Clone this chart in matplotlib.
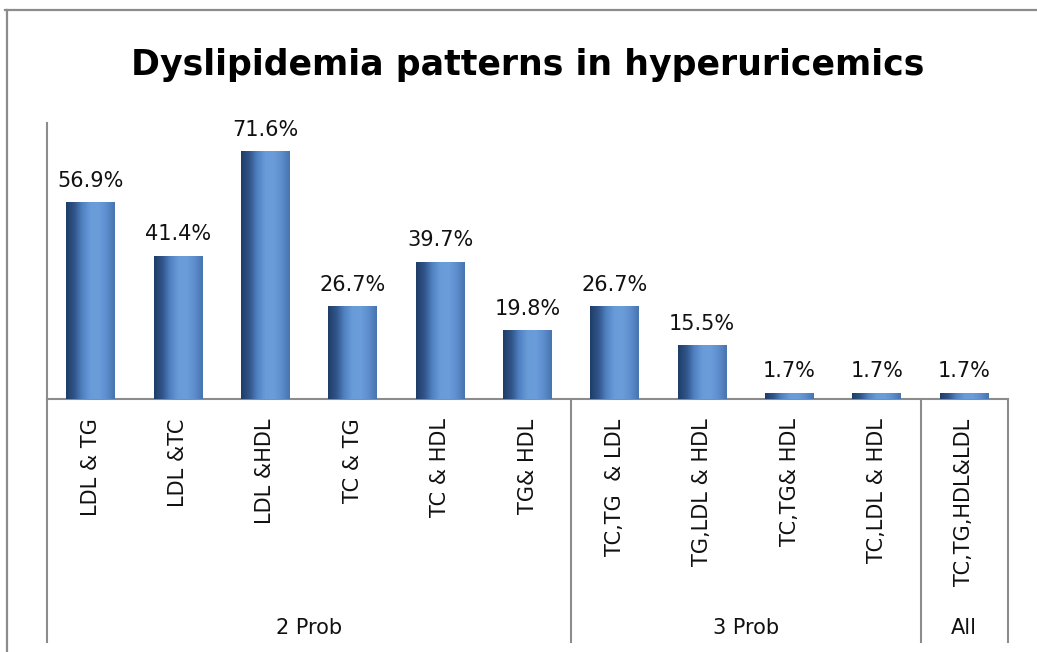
import numpy as np
import matplotlib
matplotlib.use("Agg")
import matplotlib.pyplot as plt
from matplotlib.colors import LinearSegmentedColormap
from matplotlib.lines import Line2D
import matplotlib.transforms as mtransforms

# ---- data ----
categories = ["LDL & TG", "LDL &TC", "LDL &HDL", "TC & TG", "TC & HDL", "TG& HDL",
              "TC,TG  & LDL", "TG,LDL & HDL", "TC,TG& HDL", "TC,LDL & HDL", "TC,TG,HDL&LDL"]
values = [56.9, 41.4, 71.6, 26.7, 39.7, 19.8, 26.7, 15.5, 1.7, 1.7, 1.7]
groups = ["2 Prob", "3 Prob", "All"]
group_sizes = [6, 4, 1]
title = "Dyslipidemia patterns in hyperuricemics"

plt.rcParams['font.family'] = ['DejaVu Sans']

W, H = 1037, 652
fig = plt.figure(figsize=(W / 100, H / 100), dpi=100)
fig.patch.set_facecolor("white")

ax_left, ax_right, ax_top, ax_bottom = 47, 1008, 123, 399
ax = fig.add_axes([ax_left / W, 1 - ax_bottom / H, (ax_right - ax_left) / W, (ax_bottom - ax_top) / H])

x = np.arange(len(categories))
bar_w = 0.56
bars = ax.bar(x, values, width=bar_w, color="#4f7fbf", zorder=2)

grad_cmap = LinearSegmentedColormap.from_list(
    "cyl", ["#1f3d68", "#31558a", "#5082c2", "#6a9bd9", "#6c9ddb", "#5e8ecd", "#4874b0"])
grad = np.linspace(0, 1, 64).reshape(1, -1)
for r in bars:
    ax.imshow(grad, extent=[r.get_x(), r.get_x() + r.get_width(), 0, r.get_height()],
              aspect="auto", cmap=grad_cmap, zorder=3, interpolation="bicubic")

for xi, v in zip(x, values):
    ax.annotate(f"{v:.1f}%", (xi, v), xytext=(0, 11.5), textcoords="offset points",
                ha="center", va="baseline", fontsize=15, color="#111111")

ax.set_xlim(-0.5, len(categories) - 0.5)
ax.set_ylim(0, 80)

axis_col = "#8c8c8c"
for s in ["top", "right"]:
    ax.spines[s].set_visible(False)
ax.spines["left"].set_color(axis_col)
ax.spines["bottom"].set_color(axis_col)
ax.spines["left"].set_linewidth(1.5)
ax.spines["bottom"].set_linewidth(1.5)
ax.set_yticks([])
ax.set_xticks(x)
ax.set_xticklabels(categories, rotation=90, fontsize=15, color="#111111")
ax.tick_params(axis="x", length=0, pad=14)

# group separators and labels
trans = mtransforms.blended_transform_factory(ax.transData, ax.transAxes)
y_low = -(642 - ax_bottom) / (ax_bottom - ax_top)
y_grp = -(628 - ax_bottom) / (ax_bottom - ax_top)
bounds = np.concatenate([[0], np.cumsum(group_sizes)]) - 0.5
for b in bounds:
    ax.add_line(Line2D([b, b], [0, y_low], transform=trans, color=axis_col, lw=1.5, clip_on=False))
for g, a, b in zip(groups, bounds[:-1], bounds[1:]):
    ax.text((a + b) / 2, y_grp, g, transform=trans, ha="center", va="center",
            fontsize=15, color="#111111")

# title
fig.text((ax_left + ax_right) / 2 / W, 1 - 75 / H, title, ha="center", va="baseline",
         fontsize=25, fontweight="bold", color="black")

# outer chart border
fig.add_artist(Line2D([5 / W, 1], [1 - 9.5 / H, 1 - 9.5 / H], transform=fig.transFigure,
                      color="#8c8c8c", lw=1.6))
fig.add_artist(Line2D([7 / W, 7 / W], [0, 1 - 9.5 / H], transform=fig.transFigure,
                      color="#8c8c8c", lw=1.6))

fig.savefig("out.png", dpi=100)
